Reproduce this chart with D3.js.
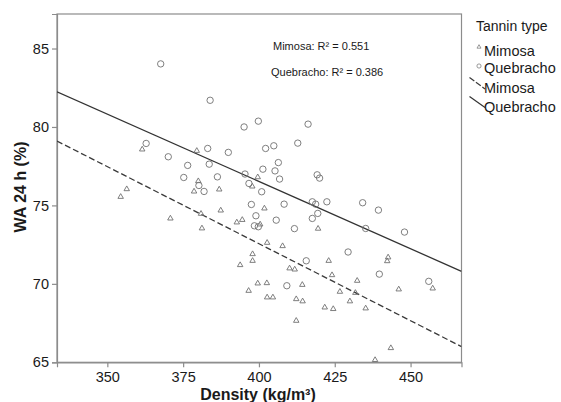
<!DOCTYPE html>
<html>
<head>
<meta charset="utf-8">
<script src="https://cdn.jsdelivr.net/npm/d3@7"></script>
<style>
  html, body { margin: 0; padding: 0; background: #fff; }
  svg { display: block; font-family: "Liberation Sans", Arial, sans-serif; }
</style>
</head>
<body>
<svg id="chart" width="561" height="402"></svg>
<script>
// Water absorption after 24 h vs. board density, by tannin type
const mimosaDensity = [361.5, 379.5, 380.0, 378.6, 386.9, 356.4, 354.4, 387.4, 380.9, 370.8,
  381.2, 399.6, 397.8, 401.8, 392.7, 394.5, 400.4, 419.5, 402.7, 407.8,
  397.9, 397.9, 393.8, 423.0, 410.1, 411.8, 424.1, 432.4, 399.6, 402.6,
  414.3, 396.6, 426.7, 431.8, 402.7, 404.6, 412.3, 414.4, 430.0, 421.7,
  424.5, 435.2, 412.3, 438.3, 442.6, 442.3, 446.1, 457.3, 443.5];
const mimosaWA = [78.57, 78.48, 76.55, 75.89, 76.02, 76.04, 75.55, 74.68, 74.47, 74.17,
  73.54, 76.8, 76.21, 74.81, 73.92, 74.08, 73.79, 73.52, 72.62, 72.41,
  71.9, 71.47, 71.2, 71.47, 70.99, 70.92, 70.56, 70.2, 70.03, 70.05,
  69.94, 69.56, 69.5, 69.43, 69.14, 69.14, 69.03, 68.89, 68.89, 68.5,
  68.4, 68.44, 67.65, 65.15, 71.69, 71.45, 69.65, 69.71, 65.91];

const quebrachoDensity = [367.6, 362.8, 370.1, 376.5, 375.2, 383.9, 383.1, 389.9, 383.6, 386.3,
  380.2, 381.9, 399.8, 395.1, 416.2, 402.2, 404.9, 412.8, 406.4, 401.3,
  405.3, 395.4, 406.8, 419.2, 420.0, 396.7, 400.9, 397.5, 408.3, 417.6,
  418.7, 422.4, 419.4, 399.0, 417.6, 405.7, 398.5, 399.8, 411.7, 434.2,
  439.4, 435.2, 429.4, 415.6, 439.7, 409.2, 448.0, 456.0];
const quebrachoWA = [84.02, 78.95, 78.1, 77.55, 76.78, 81.7, 78.63, 78.38, 77.63, 76.82,
  76.27, 75.89, 80.37, 80.0, 80.18, 78.63, 78.8, 78.97, 77.73, 77.31,
  77.2, 77.0, 76.68, 76.95, 76.74, 76.40, 75.87, 75.06, 75.08, 75.23,
  75.08, 75.23, 74.49, 74.34, 74.17, 74.06, 73.7, 73.64, 73.52, 75.17,
  74.7, 73.53, 72.03, 71.47, 70.62, 69.88, 73.3, 70.16];

// Linear fits: WA = intercept + slope * density
const fitNames = ["Mimosa", "Quebracho"];
const fitIntercepts = [111.84, 110.83];
const fitSlopes = [-0.0982, -0.08576];
const fitR2 = ["0.551", "0.386"];

const xTicks = [350, 375, 400, 425, 450];
const yTicks = [65, 70, 75, 80, 85];
const xDomain = [333.4, 466.8];
const yDomain = [65, 87.2];

const svg = d3.select("#chart");
const m = { left: 57, top: 14, right: 461.5, bottom: 362.3 };

const x = d3.scaleLinear().domain(xDomain).range([m.left, m.right]);
const y = d3.scaleLinear().domain(yDomain).range([m.bottom, m.top]);

const frameColor = "#8c8c8c";

// plot frame
svg.append("rect")
  .attr("x", m.left).attr("y", m.top)
  .attr("width", m.right - m.left).attr("height", m.bottom - m.top)
  .attr("fill", "none").attr("stroke", frameColor).attr("stroke-width", 1.2);

// axes
const xAxis = svg.append("g")
  .attr("transform", `translate(0,${m.bottom})`)
  .call(d3.axisBottom(x).tickValues(xTicks).tickSize(5).tickPadding(4).tickFormat(d3.format("d")));
const yAxis = svg.append("g")
  .attr("transform", `translate(${m.left},0)`)
  .call(d3.axisLeft(y).tickValues(yTicks).tickSize(5).tickPadding(3).tickFormat(d3.format("d")));
[xAxis, yAxis].forEach(g => {
  g.select(".domain").attr("stroke", frameColor).attr("stroke-width", 1.2);
  g.selectAll(".tick line").attr("stroke", frameColor).attr("stroke-width", 1.2);
  g.selectAll(".tick text")
    .attr("fill", "#1a1a1a")
    .style("font-size", "14.5px")
    .style("font-family", "'Liberation Sans', Arial, sans-serif");
});

// axis titles
svg.append("text")
  .attr("x", 258).attr("y", 399.5)
  .attr("text-anchor", "middle")
  .style("font-size", "16px").style("font-weight", "bold").attr("fill", "#1a1a1a")
  .text("Density (kg/m³)");
svg.append("text")
  .attr("transform", "translate(26,187) rotate(-90)")
  .attr("text-anchor", "middle")
  .style("font-size", "16px").style("font-weight", "bold").attr("fill", "#1a1a1a")
  .text("WA 24 h (%)");

// fit lines clipped to the plot area
svg.append("clipPath").attr("id", "plotClip")
  .append("rect")
  .attr("x", m.left).attr("y", m.top)
  .attr("width", m.right - m.left).attr("height", m.bottom - m.top);

const lineGen = d3.line().x(d => x(d[0])).y(d => y(d[1]));
const fitStyles = [
  { stroke: "#3a3a3a", dash: "6,3", width: 1.3 },
  { stroke: "#333333", dash: null, width: 1.3 }
];
fitNames.forEach((name, i) => {
  const pts = xDomain.map(d => [d, fitIntercepts[i] + fitSlopes[i] * d]);
  svg.append("path")
    .attr("clip-path", "url(#plotClip)")
    .attr("d", lineGen(pts))
    .attr("fill", "none")
    .attr("stroke", fitStyles[i].stroke)
    .attr("stroke-width", fitStyles[i].width)
    .attr("stroke-dasharray", fitStyles[i].dash);
});

// points
const markerColor = "#707070";
const tri = d3.symbol().type(d3.symbolTriangle).size(13);
svg.append("g").selectAll("path")
  .data(d3.zip(mimosaDensity, mimosaWA))
  .join("path")
  .attr("d", tri)
  .attr("transform", d => `translate(${x(d[0])},${y(d[1])})`)
  .attr("fill", "none").attr("stroke", markerColor).attr("stroke-width", 0.9);

svg.append("g").selectAll("circle")
  .data(d3.zip(quebrachoDensity, quebrachoWA))
  .join("circle")
  .attr("cx", d => x(d[0])).attr("cy", d => y(d[1]))
  .attr("r", 3.2)
  .attr("fill", "none").attr("stroke", markerColor).attr("stroke-width", 0.9);

// R² annotations
fitNames.forEach((name, i) => {
  svg.append("text")
    .attr("x", i === 0 ? 273 : 271)
    .attr("y", i === 0 ? 50 : 76)
    .style("font-size", "11px").attr("fill", "#1a1a1a")
    .text(`${name}: R² = ${fitR2[i]}`);
});

// legend
const lg = svg.append("g");
lg.append("text").attr("x", 476).attr("y", 31)
  .style("font-size", "14px").attr("fill", "#1a1a1a").text("Tannin type");
const legendFont = "14.5px";
lg.append("path").attr("d", d3.symbol().type(d3.symbolTriangle).size(7)())
  .attr("transform", "translate(479,47)")
  .attr("fill", "none").attr("stroke", "#808080").attr("stroke-width", 0.8);
lg.append("text").attr("x", 484).attr("y", 55.5).style("font-size", legendFont)
  .attr("fill", "#1a1a1a").text(fitNames[0]);
lg.append("circle").attr("cx", 479).attr("cy", 66).attr("r", 2.1)
  .attr("fill", "none").attr("stroke", "#808080").attr("stroke-width", 0.8);
lg.append("text").attr("x", 484).attr("y", 72.5).style("font-size", legendFont)
  .attr("fill", "#1a1a1a").text(fitNames[1]);
lg.append("line").attr("x1", 469.5).attr("y1", 77.5).attr("x2", 485).attr("y2", 89)
  .attr("stroke", "#3a3a3a").attr("stroke-width", 1.2).attr("stroke-dasharray", "6,2");
lg.append("text").attr("x", 484).attr("y", 92.5).style("font-size", legendFont)
  .attr("fill", "#1a1a1a").text(fitNames[0]);
lg.append("line").attr("x1", 469.5).attr("y1", 96.5).attr("x2", 485).attr("y2", 107.5)
  .attr("stroke", "#333").attr("stroke-width", 1.2);
lg.append("text").attr("x", 484).attr("y", 111.5).style("font-size", legendFont)
  .attr("fill", "#1a1a1a").text(fitNames[1]);
</script>
</body>
</html>
